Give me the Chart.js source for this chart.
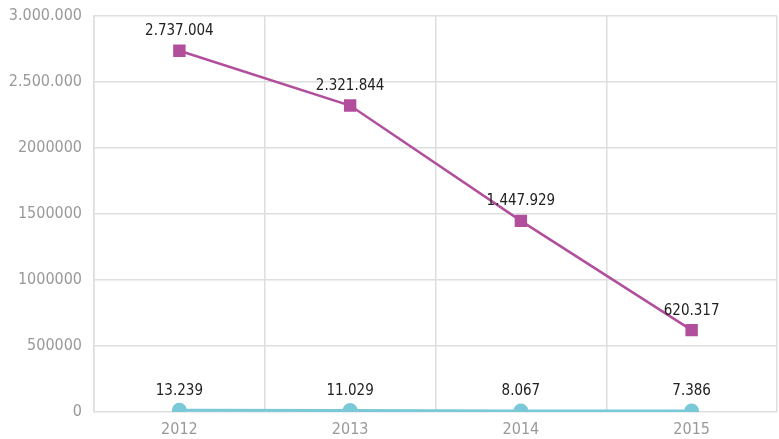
<!DOCTYPE html>
<html>
<head>
<meta charset="utf-8">
<script src="https://cdn.jsdelivr.net/npm/chart.js@4"></script>
<style>
  html, body { margin: 0; padding: 0; background: #fff; overflow: hidden; }
</style>
</head>
<body>
<canvas id="lineChart" width="779" height="439"></canvas>
<script>
const years = ['2012', '2013', '2014', '2015'];
const seriesA = [2737004, 2321844, 1447929, 620317];
const seriesB = [13239, 11029, 8067, 7386];
const seriesALabels = ['2.737.004', '2.321.844', '1.447.929', '620.317'];
const seriesBLabels = ['13.239', '11.029', '8.067', '7.386'];
const yTickLabels = {
    0: '0', 500000: '500000', 1000000: '1000000', 1500000: '1500000',
    2000000: '2000000', 2500000: '2.500.000', 3000000: '3.000.000'
};

const fontFamily = '"Liberation Sans Narrow", "DejaVu Sans Condensed", "Roboto Condensed", sans-serif';

// draws value labels above each point
const valueLabels = {
    id: 'valueLabels',
    afterDatasetsDraw(chart) {
        const ctx = chart.ctx;
        const texts = [seriesALabels, seriesBLabels];
        ctx.save();
        ctx.font = '15px ' + fontFamily;
        ctx.fillStyle = '#222';
        ctx.textAlign = 'center';
        ctx.textBaseline = 'bottom';
        chart.data.datasets.forEach((ds, i) => {
            chart.getDatasetMeta(i).data.forEach((pt, j) => {
                ctx.fillText(texts[i][j], pt.x, pt.y - 12);
            });
        });
        ctx.restore();
    }
};

// drop the extra room the scales reserve for edge labels
function noEdgePadding(scale) {
    scale.paddingTop = 0;
    scale.paddingBottom = 0;
    scale.paddingLeft = 0;
    scale.paddingRight = 0;
}

new Chart(document.getElementById('lineChart'), {
    type: 'line',
    data: {
        labels: years,
        datasets: [{
            data: seriesA,
            borderColor: '#b24f9c',
            backgroundColor: '#b24f9c',
            borderWidth: 2.5,
            pointStyle: 'rect',
            pointRadius: 7,
            pointHoverRadius: 7,
            tension: 0
        }, {
            data: seriesB,
            borderColor: '#7ac9d9',
            backgroundColor: '#7ac9d9',
            borderWidth: 3,
            pointStyle: 'circle',
            pointRadius: 6,
            pointHoverRadius: 6,
            tension: 0
        }]
    },
    options: {
        responsive: false,
        animation: false,
        layout: { autoPadding: false, padding: { top: 16, right: 2, left: 0, bottom: 0 } },
        plugins: {
            legend: { display: false },
            tooltip: { enabled: false }
        },
        scales: {
            x: {
                offset: true,
                grid: { color: '#dedede', lineWidth: 1.5, offset: true, drawTicks: false },
                border: { display: false },
                ticks: { color: '#999', font: { family: fontFamily, size: 16 }, padding: 8 },
                afterFit(scale) { scale.height = 27; noEdgePadding(scale); }
            },
            y: {
                min: 0,
                max: 3000000,
                grid: { color: '#dedede', lineWidth: 1.5, drawTicks: false },
                border: { color: '#dedede', width: 1.5 },
                ticks: {
                    stepSize: 500000,
                    color: '#999',
                    padding: 12,
                    font: { family: fontFamily, size: 16 },
                    callback: v => yTickLabels[v]
                },
                afterFit(scale) { scale.width = 94; noEdgePadding(scale); }
            }
        }
    },
    plugins: [valueLabels]
});
</script>
</body>
</html>
